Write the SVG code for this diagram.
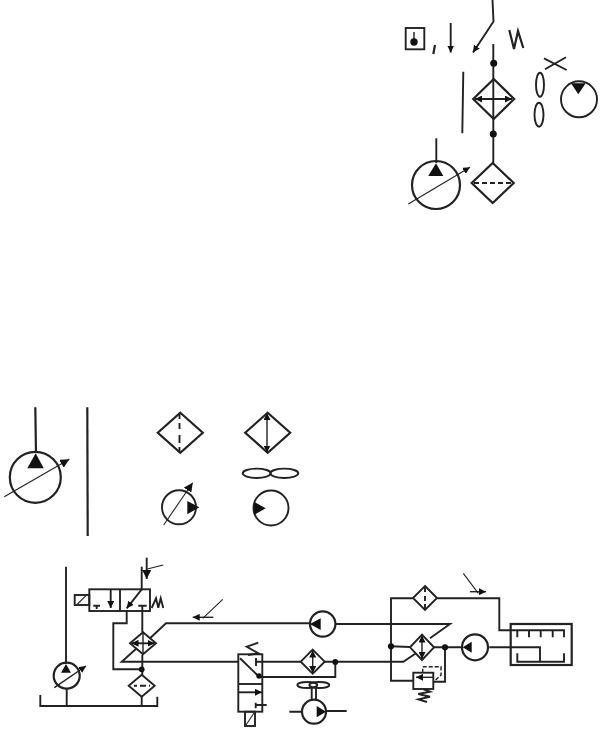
<svg xmlns="http://www.w3.org/2000/svg" width="609" height="739" viewBox="0 0 609 739">
<defs>
<marker id="ah" markerUnits="userSpaceOnUse" markerWidth="10" markerHeight="9" refX="9" refY="4.5" orient="auto-start-reverse"><path class="f" d="M0 0L9 4.5L0 9Z"/></marker>
<marker id="as" markerUnits="userSpaceOnUse" markerWidth="8" markerHeight="7" refX="7" refY="3.5" orient="auto-start-reverse"><path class="f" d="M0 0L7 3.5L0 7Z"/></marker>
</defs>
<style>
path,line,circle,rect,ellipse,polyline{fill:none;stroke:#222;stroke-width:1.9}
.t{stroke-width:1.1}
.b{stroke-width:2.2}
.f{fill:#111;stroke:none}
.n{stroke-width:1.4}
</style>
<rect x="0" y="0" width="609" height="739" style="fill:#fff;stroke:none"/>
<g id="fragments-top">
<path d="M492.5 0L493.5 21.5L473 52.5" marker-end="url(#as)"/>
<rect x="405.7" y="28" width="18.6" height="21.3"/>
<path class="n" d="M414 32V42"/><circle class="f" cx="414" cy="42" r="3.7"/>
<path class="b" d="M435 45L433.3 54"/>
<path d="M450.7 23V52.5" marker-end="url(#as)"/>
<path class="b" d="M509.3 30L514 49L518 31L523.3 48"/>
<path d="M463.3 71.7L462.3 133.3"/>
<path d="M544 58.3L566.7 70M566 57.3L545 69.3"/>
<ellipse cx="540" cy="84.7" rx="4" ry="12"/><ellipse cx="539" cy="114.7" rx="4.5" ry="12"/>
<circle cx="579" cy="99.3" r="18"/><path class="f" d="M571 83.3H585.7L578.3 94.3Z"/>
<path d="M493.3 44V163"/><circle class="f" cx="493.7" cy="63.3" r="3.5"/><circle class="f" cx="493.3" cy="134" r="3.5"/>
<path class="b" d="M493.7 79L514.2 99L493.7 119L473.2 99Z"/>
<path class="b" d="M475 99H512" marker-start="url(#as)" marker-end="url(#as)"/>
<path class="b" d="M492.7 163L513.7 183L492.7 203L471.7 183Z"/>
<path class="b" d="M474 183H511" stroke-dasharray="5 3"/>
<circle class="b" cx="436" cy="185" r="24"/>
<path class="f" d="M428.3 176H443.3L436 163.3Z"/>
<path d="M436.3 138.3V163"/>
<path class="t" d="M408.3 204L470 167.3" marker-end="url(#as)"/>
</g>
<g id="symbols-middle">
<path class="b" d="M35.3 407.3L36 453"/>
<circle class="b" cx="35.3" cy="477.3" r="25.5"/>
<path class="f" d="M27.3 468.3H43.7L35.7 453.3Z"/>
<path class="t" d="M4.3 496.7L69.3 459.3" marker-end="url(#ah)"/>
<path class="b" d="M87.3 407.3L87.7 536"/>
<path class="b" d="M180.3 412.7L202.8 432.7L180.3 452.7L157.8 432.7Z"/>
<path d="M179.5 413V452.5" stroke-dasharray="6 4 6 6 8 4"/>
<path class="b" d="M267.7 412.7L290.2 432.7L267.7 452.7L245.2 432.7Z"/>
<path class="n" d="M267 413V452.5" marker-start="url(#as)" marker-end="url(#as)"/>
<ellipse cx="256.7" cy="473.3" rx="14" ry="4.7"/><ellipse cx="284.3" cy="473.3" rx="14" ry="4.7"/>
<circle cx="179" cy="507.3" r="17"/>
<path class="f" d="M187.3 501V514.3L199.3 507.3Z"/>
<path class="t" d="M163.7 525L192.7 482.7" marker-end="url(#ah)"/>
<circle cx="271" cy="508" r="17.5"/>
<path class="f" d="M254 501.7V515L265.7 508.3Z"/>
</g>
<g id="circuit">
<g id="left-pump">
<path d="M66 566.7V664M66.7 688V706"/>
<circle class="b" cx="66.7" cy="675.7" r="13"/>
<path class="f" d="M61 672.7H71L66 664Z"/>
<path class="n" d="M54.3 687.7L86 666" marker-end="url(#as)"/>
<path d="M40.3 695V706H157.3V696.7"/>
</g>
<g id="directional-valve">
<rect x="89.3" y="589.3" width="60.7" height="21.7"/>
<path d="M120 589.3V611"/>
<path d="M93.3 605.7H100M96.7 605.7V609M138.3 605.7H146.7"/>
<path d="M110.7 589.3V608" marker-end="url(#as)"/>
<path d="M141.7 589.3L126.7 608.3" marker-end="url(#as)"/>
<path d="M151.7 608L156 598.3L158.3 607.7L160.7 598.3L163.3 608"/>
<rect x="74.7" y="595" width="14.6" height="10"/>
<path class="t" d="M77 604.5L86 595.7"/>
<path d="M141.7 566.7V589.3"/>
</g>
<g id="left-filters">
<path d="M142.3 605.7V632M142.3 655V674.7M141.7 696.7V706"/>
<path d="M126.7 611V623.3H113.3V669.3H141.7"/>
<circle class="f" cx="141.7" cy="669.3" r="2.9"/>
<path d="M143 632.3L156 643.3L143 654.3L130 643.3Z"/>
<path d="M131.5 643.3H154.5" marker-start="url(#as)" marker-end="url(#as)"/>
<path class="n" d="M143 633V654"/>
<path d="M141.7 674.7L154.7 685.7L141.7 696.7L128.7 685.7Z"/>
<path d="M134 685.7H150" stroke-dasharray="3 3 6 3"/>
</g>
<g id="connectors">
<path d="M150 638.3L166 623.3H310M336 624H450L430 638.3"/>
<path d="M136.7 648.3L121.7 661.7H238.3M256 661.7H300.7M324.7 661.7H403.3L416 653.3"/>
<path d="M259 677H335.3V662"/>
<circle class="f" cx="335.3" cy="662" r="2.9"/>
<path d="M391 646.3V598.3H412.7M437.3 598.3H499.3V630.3H510.7"/>
<path d="M391 646.3L410 647M434 647.3H461.7"/>
<path d="M391 646.3V680.7H413.3M433.3 681.7H445V647.3"/>
<circle class="f" cx="391" cy="646.3" r="3.1"/><circle class="f" cx="445" cy="647.3" r="3.1"/>
</g>
<g id="motor-top">
<circle class="b" cx="322.7" cy="624" r="12.7"/>
<path class="f" d="M320.7 618.3V630L310 624Z"/>
</g>
<g id="slide-valve">
<rect x="238.3" y="654.3" width="24" height="57.4"/>
<path d="M238.3 684H262.3"/>
<path d="M240 658.3L258.3 676"/><circle class="f" cx="259" cy="676" r="2.7"/>
<path d="M256 658V666"/>
<path d="M238.3 692.3H262" marker-end="url(#as)"/>
<path d="M255.7 702.7V708.3M255.7 705H266.7"/>
<path d="M258.3 642.7L246.7 646.7L258.3 653.3L248 655"/>
<rect x="245" y="711.7" width="10" height="14.3"/>
<path class="t" d="M246 725L254 713"/>
</g>
<g id="mid-filter">
<path d="M312.7 649.7L324.7 661.7L312.7 673.7L300.7 661.7Z"/>
<path class="n" d="M312.7 650.5V673" marker-start="url(#as)" marker-end="url(#as)"/>
</g>
<g id="fan-motor">
<ellipse cx="307.3" cy="685" rx="10" ry="3"/><ellipse cx="319.3" cy="685" rx="10" ry="3"/>
<path d="M311.7 688V701M316 688V701"/>
<circle class="b" cx="314" cy="711.7" r="12"/>
<path class="f" d="M316.7 706V717.3L326 711.7Z"/>
<path d="M289.3 711.7H302M326 711H346.7"/>
</g>
<g id="right-filters">
<path d="M425 586L437 598L425 610L413 598Z"/>
<path d="M425 587V609" stroke-dasharray="5 4 5 3"/>
<path d="M422 634.6L434 647.3L422 660L410 647.3Z"/>
<path class="n" d="M422 635.5V659" marker-start="url(#as)" marker-end="url(#as)"/>
</g>
<g id="relief-valve">
<rect x="413.3" y="672.7" width="20" height="16.3"/>
<path class="n" d="M433.3 677.3H416" marker-end="url(#as)"/>
<path class="n" d="M422.7 672.7V666.7H441V675L435 680.7" stroke-dasharray="4 2"/>
<path d="M423 689L430 691.7L418.3 694L430 696.7L418.3 699.3L427 702"/>
</g>
<g id="right-motor">
<circle class="b" cx="475" cy="647.3" r="13"/>
<path class="f" d="M471.7 641.7V652.7L462.7 647.3Z"/>
<path d="M489.3 647.3H540V661.7"/>
</g>
<g id="tank">
<rect class="b" x="510.7" y="624" width="61" height="41"/>
<path d="M510.7 630.3H564V637.3M517.3 630.3V637.3M529 630.3V637.3M540.7 630.3V637.3M552.7 630.3V637.3"/>
<path d="M517.3 653.3V661.7H564V653.3"/>
</g>
<g id="pointers">
<path d="M146.7 557.7V579" marker-end="url(#ah)"/>
<path class="t" d="M163.3 565L147.3 569"/>
<path class="n" d="M213.3 617.3H192.7" marker-end="url(#as)"/>
<path class="t" d="M222.7 599.3L202.7 618.3"/>
<path class="n" d="M470 591.7H486" marker-end="url(#as)"/>
<path class="t" d="M463.3 573.3L478.3 593.3"/>
</g>
</g>
</svg>
